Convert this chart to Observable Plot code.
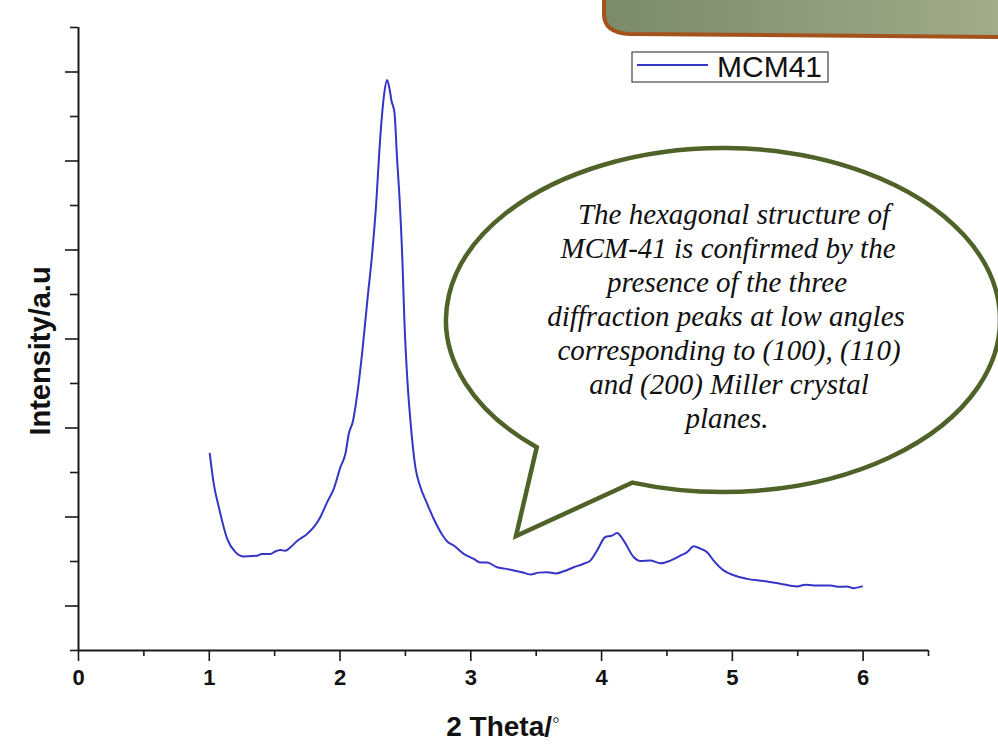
<!DOCTYPE html>
<html>
<head>
<meta charset="utf-8">
<script src="https://cdn.jsdelivr.net/npm/d3@7"></script>
<script src="https://cdn.jsdelivr.net/npm/@observablehq/plot@0.6"></script>
<style>
  html, body { margin: 0; padding: 0; background: #fff; }
  #chart { width: 998px; height: 744px; overflow: hidden; }
  svg { overflow: visible; }
</style>
</head>
<body>
<div id="chart"></div>
<script>
// ---- data ----
const seriesName = "MCM41";
const theta = [1.004,1.034,1.073,1.137,1.200,1.264,1.30,1.366,1.40,1.468,1.50,1.544,1.58,1.621,1.672,1.748,1.799,1.850,1.901,1.952,2.003,2.041,2.067,2.100,2.125,2.171,2.209,2.248,2.278,2.301,2.324,2.339,2.360,2.378,2.393,2.416,2.437,2.456,2.477,2.492,2.515,2.538,2.576,2.615,2.666,2.716,2.793,2.82,2.869,2.946,3.022,3.073,3.125,3.201,3.26,3.328,3.39,3.456,3.52,3.583,3.65,3.710,3.787,3.863,3.914,3.966,4.029,4.080,4.118,4.169,4.245,4.297,4.373,4.450,4.526,4.602,4.654,4.704,4.755,4.807,4.857,4.933,5.010,5.112,5.239,5.367,5.495,5.56,5.622,5.749,5.82,5.877,5.927,5.992];
const intensity = [4.42,3.75,3.22,2.51,2.21,2.11,2.12,2.13,2.17,2.17,2.22,2.26,2.24,2.32,2.46,2.62,2.77,3.00,3.33,3.63,4.12,4.42,4.87,5.17,5.62,6.74,7.87,8.99,10.11,11.24,12.13,12.54,12.82,12.63,12.36,12.09,11.01,10.11,8.76,7.42,6.07,5.17,4.12,3.67,3.30,2.96,2.55,2.45,2.36,2.17,2.06,1.98,1.98,1.87,1.84,1.80,1.76,1.71,1.75,1.76,1.73,1.78,1.87,1.95,2.02,2.25,2.55,2.58,2.64,2.47,2.10,2.01,2.02,1.96,2.02,2.13,2.21,2.34,2.29,2.21,2.02,1.80,1.69,1.61,1.56,1.50,1.44,1.48,1.46,1.46,1.43,1.44,1.40,1.44];
const xMajorTicks = [0,1,2,3,4,5,6];
const xMinorTicks = [0.5,1.5,2.5,3.5,4.5,5.5,6.5];
const yMajorTicks = [1,3,5,7,9,11,13];
const yMinorTicks = [0,2,4,6,8,10,12,14];
const xLabel = "2 Theta/";
const xLabelUnit = "\u25E6";
const yLabel = "Intensity/a.u";
const calloutLines = [
  "The hexagonal structure of",
  "MCM-41 is confirmed by the",
  "presence of the three",
  "diffraction peaks at low angles",
  "corresponding to (100), (110)",
  "and (200) Miller crystal",
  "planes."
];

const data = theta.map((t, i) => ({theta: t, intensity: intensity[i]}));
const axisColor = "#1a1a1a";
const lineColor = "#3535c8";

const plot = Plot.plot({
  width: 998,
  height: 744,
  marginLeft: 78,
  marginRight: 70,
  marginTop: 27,
  marginBottom: 94,
  style: {background: "transparent", fontFamily: "'Liberation Sans', Arial, sans-serif", overflow: "visible"},
  x: {domain: [0, 6.5]},
  y: {domain: [0, 14]},
  marks: [
    Plot.axisX({ticks: xMinorTicks, tickSize: 6, tickFormat: () => "", stroke: axisColor, strokeWidth: 1.6, label: null}),
    Plot.axisX({ticks: xMajorTicks, tickSize: 11, tickPadding: 8, stroke: axisColor, strokeWidth: 1.6,
      fontSize: 22, fontWeight: "bold", fill: "#111", label: null, tickFormat: d3.format("d")}),
    Plot.axisY({ticks: yMinorTicks, tickSize: 8, tickFormat: () => "", stroke: axisColor, strokeWidth: 1.6, label: null}),
    Plot.axisY({ticks: yMajorTicks, tickSize: 13, tickFormat: () => "", stroke: axisColor, strokeWidth: 1.6, label: null}),
    Plot.ruleY([0], {stroke: axisColor, strokeWidth: 2}),
    Plot.ruleX([0], {stroke: axisColor, strokeWidth: 2}),
    Plot.line(data, {x: "theta", y: "intensity", stroke: lineColor, strokeWidth: 2, curve: "monotone-x"})
  ]
});

document.getElementById("chart").appendChild(plot);

const svg = d3.select(plot);
const sans = "'Liberation Sans', Arial, sans-serif";

// axis titles
const xt = svg.append("text")
  .attr("x", 503).attr("y", 736)
  .attr("text-anchor", "middle")
  .attr("font-family", sans)
  .attr("font-weight", "bold").attr("font-size", 28).attr("fill", "#111");
xt.append("tspan").text(xLabel);
xt.append("tspan").attr("dy", -9).attr("font-size", 22).attr("font-weight", "normal").text(xLabelUnit);

svg.append("text")
  .attr("transform", "translate(42,351) rotate(-90)")
  .attr("text-anchor", "middle").attr("dominant-baseline", "middle")
  .attr("font-family", sans)
  .attr("font-weight", "bold").attr("font-size", 29).attr("fill", "#111")
  .text(yLabel);

// legend
const lg = svg.append("g");
lg.append("rect").attr("x", 632).attr("y", 52).attr("width", 196).attr("height", 30)
  .attr("fill", "#fff").attr("stroke", "#444").attr("stroke-width", 1.2);
lg.append("line").attr("x1", 637).attr("x2", 708).attr("y1", 65).attr("y2", 65)
  .attr("stroke", lineColor).attr("stroke-width", 2);
lg.append("text").attr("x", 717).attr("y", 77).attr("text-anchor", "start")
  .attr("font-family", sans).attr("font-size", 30).attr("fill", "#111")
  .text(seriesName);

// top-right decorative box
const defs = svg.append("defs");
const grad = defs.append("linearGradient").attr("id", "boxGrad").attr("x1", "0%").attr("x2", "100%");
grad.append("stop").attr("offset", "0%").attr("stop-color", "#7a8a6a");
grad.append("stop").attr("offset", "100%").attr("stop-color", "#a3ac8b");
svg.append("path")
  .attr("d", "M604,-10 L604,14 Q604,33 630,34 L1010,37 L1010,-10 Z")
  .attr("fill", "url(#boxGrad)").attr("stroke", "#a4521b").attr("stroke-width", 4);

// callout bubble
const cx = 723, cy = 320, rx = 277, ry = 172;
const tip = [516, 536];
const a1 = Math.atan2((443 - cy) / ry, (543 - cx) / rx);
const a2 = Math.atan2((480 - cy) / ry, (634 - cx) / rx);
const p1 = [cx + rx * Math.cos(a1), cy + ry * Math.sin(a1)];
const p2 = [cx + rx * Math.cos(a2), cy + ry * Math.sin(a2)];
svg.append("path")
  .attr("d", `M${p2[0]},${p2[1]} L${tip[0]},${tip[1]} L${p1[0]},${p1[1]} A${rx},${ry} 0 1 1 ${p2[0]},${p2[1]} Z`)
  .attr("fill", "#fff").attr("stroke", "#4f6228").attr("stroke-width", 4.5).attr("stroke-linejoin", "miter");

const lineX = [734, 728, 727, 726, 729, 729, 727];
svg.append("g").selectAll("text").data(calloutLines).join("text")
  .attr("x", (d, i) => lineX[i])
  .attr("y", (d, i) => 223.5 + i * 34.1)
  .attr("text-anchor", "middle")
  .attr("font-family", "'Liberation Serif', 'Times New Roman', serif")
  .attr("font-style", "italic").attr("font-size", 29).attr("fill", "#111")
  .text(d => d);
</script>
</body>
</html>
